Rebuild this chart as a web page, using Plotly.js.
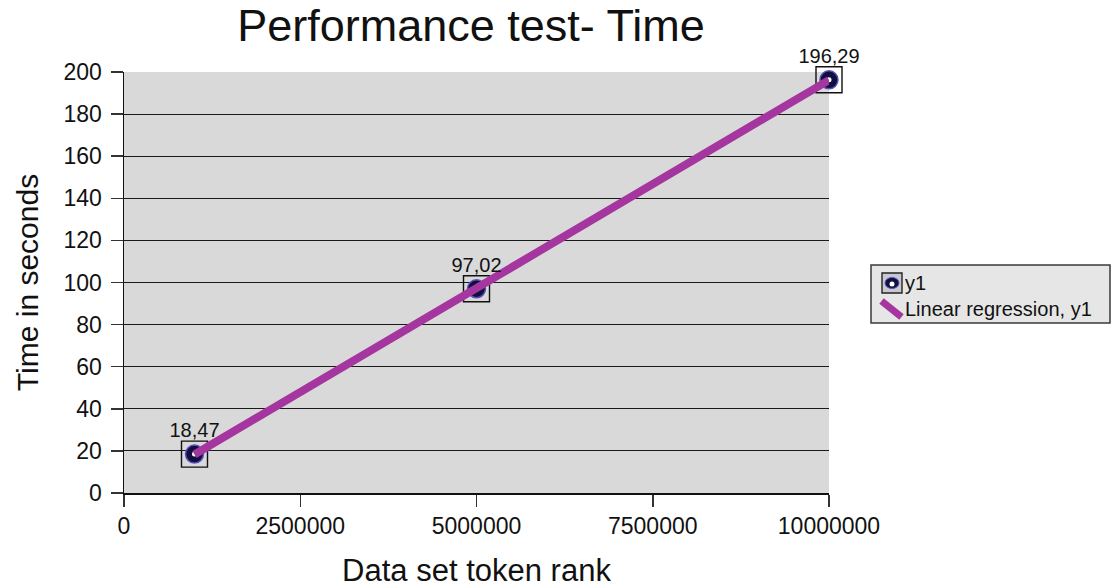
<!DOCTYPE html>
<html>
<head>
<meta charset="utf-8">
<script src="https://cdn.plot.ly/plotly-3.0.1.min.js"></script>
<style>
  html, body { margin: 0; padding: 0; background: #ffffff; }
  #chart { width: 1113px; height: 588px; }
</style>
</head>
<body>
<div id="chart"></div>
<script>
// Measured run times for each data set size
const tokenRank = [1000000, 5000000, 10000000];
const timeSeconds = [18.47, 97.02, 196.29];
const xTickValues = [0, 2500000, 5000000, 7500000, 10000000];
const seriesName = 'y1';
const fitName = 'Linear regression, y1';

// Least-squares fit of time against token rank
function linearFit(xs, ys) {
  const n = xs.length;
  const mx = xs.reduce((a, b) => a + b, 0) / n;
  const my = ys.reduce((a, b) => a + b, 0) / n;
  let sxy = 0, sxx = 0;
  for (let i = 0; i < n; i++) {
    sxy += (xs[i] - mx) * (ys[i] - my);
    sxx += (xs[i] - mx) * (xs[i] - mx);
  }
  const slope = sxy / sxx;
  return { slope: slope, intercept: my - slope * mx };
}
const fit = linearFit(tokenRank, timeSeconds);
const fitX = [Math.min(...tokenRank), Math.max(...tokenRank)];
const fitY = fitX.map(x => fit.intercept + fit.slope * x);
const labels = timeSeconds.map(v => v.toFixed(2).replace('.', ','));

const FONT = '"Liberation Sans", Arial, Helvetica, sans-serif';
const PURPLE = '#a5369f';
const NAVY = '#10103f';

// Figure geometry (pixels)
const W = 1113, H = 588;
const M = { l: 124, r: 284, t: 72, b: 95 };
const plotW = W - M.l - M.r, plotH = H - M.t - M.b;
const px = p => (p - M.l) / plotW;      // pixel x -> paper x
const py = p => (H - M.b - p) / plotH;  // pixel y -> paper y

const traces = [
  { // open square frame around each measurement
    x: tokenRank, y: timeSeconds, type: 'scatter', mode: 'markers',
    marker: { symbol: 'square-open', size: 26, color: '#111', line: { width: 1.4, color: '#111' } },
    hoverinfo: 'skip', showlegend: false, cliponaxis: false
  },
  { // dark disc
    x: tokenRank, y: timeSeconds, type: 'scatter', mode: 'markers',
    marker: { symbol: 'circle', size: 18, color: NAVY, line: { width: 1.5, color: '#5b4fc0' } },
    name: seriesName, showlegend: false, cliponaxis: false
  },
  { // white centre
    x: tokenRank, y: timeSeconds, type: 'scatter', mode: 'markers',
    marker: { symbol: 'circle', size: 5, color: '#ffffff' },
    hoverinfo: 'skip', showlegend: false, cliponaxis: false
  },
  { // regression line
    x: fitX, y: fitY, type: 'scatter', mode: 'lines',
    line: { color: PURPLE, width: 8 },
    name: fitName, showlegend: false, cliponaxis: false
  },
  { // value labels above each measurement
    x: tokenRank, y: timeSeconds, type: 'scatter', mode: 'markers+text',
    text: labels, textposition: 'top center',
    textfont: { family: FONT, size: 20, color: '#111' },
    marker: { size: 17, color: 'rgba(0,0,0,0)' },
    hoverinfo: 'skip', showlegend: false, cliponaxis: false
  }
];

// Legend drawn as shapes + annotations
const legX0 = 871, legX1 = 1110, legY0 = 265, legY1 = 323;
const icon1 = { x: 892, y: 283 };
const icon2 = { x: 891.5, y: 309 };
const shapes = [
  { type: 'rect', xref: 'paper', yref: 'paper',
    x0: px(legX0), x1: px(legX1), y0: py(legY1), y1: py(legY0),
    fillcolor: '#e6e6e6', line: { color: '#3a3a3a', width: 1.5 } },
  { type: 'rect', xref: 'paper', yref: 'paper', xsizemode: 'pixel', ysizemode: 'pixel',
    xanchor: px(icon1.x), yanchor: py(icon1.y), x0: -10, x1: 10, y0: -10, y1: 10,
    fillcolor: '#c8c8d0', line: { color: '#222', width: 1.4 } },
  { type: 'circle', xref: 'paper', yref: 'paper', xsizemode: 'pixel', ysizemode: 'pixel',
    xanchor: px(icon1.x), yanchor: py(icon1.y), x0: -7, x1: 7, y0: -5.5, y1: 5.5,
    fillcolor: NAVY, line: { color: '#5b4fc0', width: 1 } },
  { type: 'circle', xref: 'paper', yref: 'paper', xsizemode: 'pixel', ysizemode: 'pixel',
    xanchor: px(icon1.x), yanchor: py(icon1.y + 1), x0: -2.5, x1: 2.5, y0: -2.5, y1: 2.5,
    fillcolor: '#ffffff', line: { width: 0 } },
  { type: 'line', xref: 'paper', yref: 'paper', xsizemode: 'pixel', ysizemode: 'pixel',
    xanchor: px(icon2.x), yanchor: py(icon2.y), x0: -10, x1: 10, y0: 8, y1: -8,
    line: { color: PURPLE, width: 7 } }
];
const annotations = [
  { xref: 'paper', yref: 'paper', x: px(903), y: py(icon1.y), xanchor: 'left', yanchor: 'middle',
    text: seriesName, showarrow: false, font: { family: FONT, size: 20, color: '#111' } },
  { xref: 'paper', yref: 'paper', x: px(903), y: py(icon2.y), xanchor: 'left', yanchor: 'middle',
    text: fitName, showarrow: false, font: { family: FONT, size: 20, color: '#111' } }
];

const layout = {
  width: W, height: H, autosize: false,
  margin: M,
  paper_bgcolor: '#ffffff', plot_bgcolor: '#d9d9d9',
  font: { family: FONT, color: '#111' },
  showlegend: false,
  title: {
    text: 'Performance test- Time',
    font: { family: FONT, size: 45, color: '#111' },
    x: 471 / W, xanchor: 'center', xref: 'container',
    y: 1 - 25 / H, yanchor: 'middle', yref: 'container'
  },
  xaxis: {
    range: [0, 10000000], tickvals: xTickValues, tickformat: 'd',
    showgrid: false, zeroline: false,
    showline: true, linecolor: '#111', linewidth: 1.5,
    ticks: 'outside', ticklen: 12, tickwidth: 1.5, tickcolor: '#333',
    tickfont: { family: FONT, size: 23, color: '#111' },
    ticklabelstandoff: 0,
    title: { text: 'Data set token rank', font: { family: FONT, size: 31, color: '#111' }, standoff: 24 }
  },
  yaxis: {
    range: [0, 200], dtick: 20,
    showgrid: true, gridcolor: '#1a1a1a', gridwidth: 1,
    zeroline: false,
    showline: true, linecolor: '#111', linewidth: 1.5,
    ticks: 'outside', ticklen: 12, tickwidth: 1.5, tickcolor: '#333',
    tickfont: { family: FONT, size: 23, color: '#111' },
    ticklabelstandoff: 4,
    title: { text: 'Time in seconds', font: { family: FONT, size: 30, color: '#111' }, standoff: 16 }
  },
  shapes: shapes,
  annotations: annotations
};

Plotly.newPlot('chart', traces, layout, { displayModeBar: false, staticPlot: true });
</script>
</body>
</html>
